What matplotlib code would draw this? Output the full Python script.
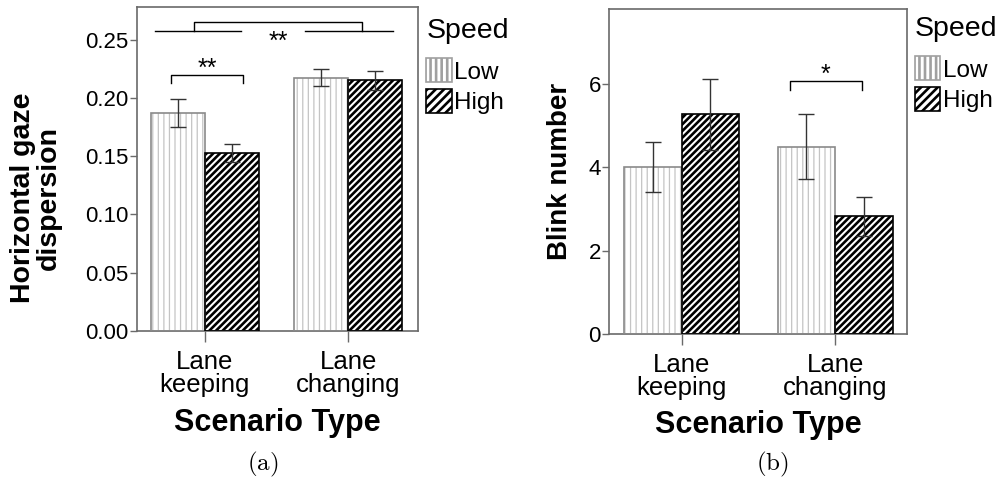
import matplotlib
matplotlib.use("Agg")
import matplotlib.pyplot as plt
import numpy as np
from matplotlib.patches import Patch

plt.rcParams['font.family'] = ['Liberation Sans', 'DejaVu Sans']
plt.rcParams['mathtext.fontset'] = 'cm'

scenarios = ['Lane\nkeeping', 'Lane\nchanging']
speeds = ['Low', 'High']

# (a) horizontal gaze dispersion
gaze_low = [0.1867, 0.2172]
gaze_high = [0.1529, 0.2150]
gaze_low_err = [0.0120, 0.0072]
gaze_high_err = [0.0075, 0.0085]

# (b) blink number
blink_low = [4.01, 4.49]
blink_high = [5.27, 2.82]
blink_low_err = [0.60, 0.78]
blink_high_err = [0.86, 0.46]

# significance brackets: (x0, x1, y_top, y_leg, label, label_baseline)
gaze_sig_small = (-0.236, 0.27, 0.2195, 0.2127, '**', 0.2190)
gaze_sig_big_left = (-0.347, 0.25)
gaze_sig_big_right = (0.70, 1.31)
gaze_sig_big = (-0.076, 1.097, 0.2650, 0.2573, '**', 0.2425)
blink_sig = (0.705, 1.172, 6.08, 5.86, '*', 6.04)

width = 0.375
spine_col = '#6a6a6a'
low_hatch_col = '#c4c4c4'
high_hatch = '/////'


def draw_bars(ax, xs, vals, errs, hatch, hatch_col, edge_col, hlw):
    plt.rcParams['hatch.linewidth'] = hlw
    bars = ax.bar(xs, vals, width, color='white', edgecolor=hatch_col,
                  hatch=hatch, linewidth=0, zorder=2)
    for b in bars:
        try:
            b.set_hatch_linewidth(hlw)
        except AttributeError:
            pass
    ax.bar(xs, vals, width, fill=False, edgecolor=edge_col, linewidth=1.2, zorder=3)
    ax.errorbar(xs, vals, yerr=errs, fmt='none', ecolor='#333333',
                elinewidth=1.0, capsize=5.5, capthick=1.0, zorder=4)


def bracket(ax, sig):
    x0, x1, ytop, yleg, lab, ylab = sig
    ax.plot([x0, x0, x1, x1], [yleg, ytop, ytop, yleg], color='black', lw=1.0,
            zorder=5, clip_on=False)
    ax.text((x0 + x1) / 2, ylab, lab, ha='center', va='baseline', fontsize=18, zorder=6)


def style_axes(ax, ylabel, ylim, yticks, yfmt, ylfs):
    x = np.arange(len(scenarios))
    ax.set_ylim(*ylim)
    ax.set_yticks(yticks)
    ax.set_yticklabels([yfmt.format(v) for v in yticks], fontsize=16)
    ax.set_xticks(x)
    ax.set_xticklabels(scenarios, fontsize=18.5, linespacing=0.95)
    for s in ax.spines.values():
        s.set_color(spine_col)
        s.set_linewidth(1.2)
    ax.tick_params(axis='y', length=5, width=1.0, color=spine_col, pad=1)
    ax.tick_params(axis='x', length=8, width=1.0, color=spine_col, pad=6)
    ax.set_xlabel('Scenario Type', fontsize=22, fontweight='bold')
    ax.set_ylabel(ylabel, fontsize=ylfs, fontweight='bold', linespacing=1.0)


def add_legend(ax, anchor):
    handles = [Patch(facecolor='white', edgecolor='#a0a0a0', hatch='|||', linewidth=1.2),
               Patch(facecolor='white', edgecolor='black', hatch='////', linewidth=1.2)]
    leg = ax.legend(handles, speeds, title='Speed', loc='upper left',
                    bbox_to_anchor=anchor, bbox_transform=ax.figure.transFigure,
                    frameon=False, fontsize=17.5, title_fontsize=20.5,
                    handlelength=1.05, handleheight=1.15, handletextpad=0.1,
                    labelspacing=0.22, borderpad=0, borderaxespad=0)
    leg._legend_box.align = 'left'
    leg._legend_box.sep = 10


fig = plt.figure(figsize=(10.03, 4.82), dpi=100)
ax1 = fig.add_axes([0.1366, 0.3133, 0.2801, 0.6722])
ax2 = fig.add_axes([0.6075, 0.3071, 0.2968, 0.6743])

x = np.arange(len(scenarios))

# panel (a)
draw_bars(ax1, x - width / 2, gaze_low, gaze_low_err, '|||', low_hatch_col, '#8a8a8a', 0.9)
draw_bars(ax1, x + width / 2, gaze_high, gaze_high_err, high_hatch, 'black', 'black', 1.9)
ax1.set_xlim(-0.472, 1.486)
style_axes(ax1, 'Horizontal gaze\ndispersion', (0, 0.278),
           [0.0, 0.05, 0.10, 0.15, 0.20, 0.25], '{:.2f}', 20.5)
bracket(ax1, gaze_sig_small)
for x0, x1 in (gaze_sig_big_left, gaze_sig_big_right):
    ax1.plot([x0, x1], [gaze_sig_big[3]] * 2, color='black', lw=1.0, zorder=5)
bracket(ax1, gaze_sig_big)
ax1.yaxis.set_label_coords(-0.36, 0.41)
ax1.yaxis.label.set_va('center')
ax1.xaxis.set_label_coords(0.5, -0.284)
ax1.xaxis.label.set_va('center')
add_legend(ax1, (0.425, 0.962))

# panel (b)
draw_bars(ax2, x - width / 2, blink_low, blink_low_err, '|||', low_hatch_col, '#8a8a8a', 0.9)
draw_bars(ax2, x + width / 2, blink_high, blink_high_err, high_hatch, 'black', 'black', 1.9)
ax2.set_xlim(-0.471, 1.467)
style_axes(ax2, 'Blink number', (0, 7.8), [0, 2, 4, 6], '{:d}', 20)
bracket(ax2, blink_sig)
ax2.yaxis.set_label_coords(-0.165, 0.5)
ax2.yaxis.label.set_va('center')
ax2.xaxis.set_label_coords(0.5, -0.279)
ax2.xaxis.label.set_va('center')
add_legend(ax2, (0.912, 0.966))

fig.text(263 / 1003, 1 - 464 / 482, r'$\mathrm{(a)}$', ha='center', va='center', fontsize=18)
fig.text(772 / 1003, 1 - 464 / 482, r'$\mathrm{(b)}$', ha='center', va='center', fontsize=18)

fig.savefig('out.png', dpi=100)
